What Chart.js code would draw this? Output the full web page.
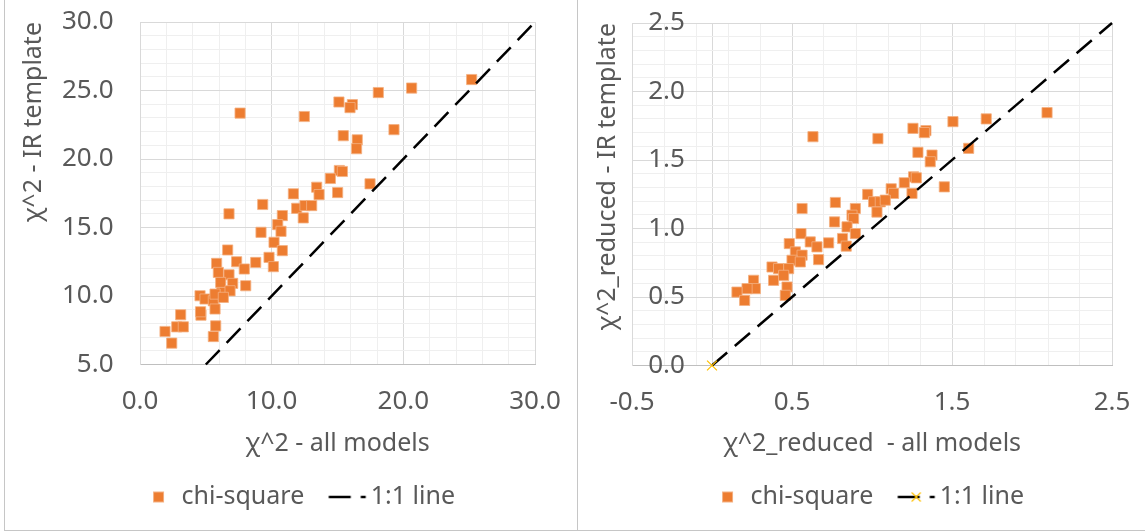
<!DOCTYPE html>
<html>
<head>
<meta charset="utf-8">
<script src="https://cdn.jsdelivr.net/npm/chart.js@4.4.1/dist/chart.umd.min.js"></script>
<style>
  body { margin: 0; background: #fff; overflow: hidden; }
  #wrap { position: relative; width: 1145px; height: 532px; overflow: hidden; }
  canvas { position: absolute; top: 0; }
  #leftChart { left: 4px; }
  #rightChart { left: 578px; }
  .rule { position: absolute; background: #c6c6c6; z-index: 2; }
</style>
</head>
<body>
<div id="wrap">
  <canvas id="leftChart" width="580" height="530"></canvas>
  <canvas id="rightChart" width="570" height="530"></canvas>
  <div class="rule" style="left:4px;top:0;width:1px;height:531px"></div>
  <div class="rule" style="left:577px;top:0;width:1px;height:531px"></div>
  <div class="rule" style="left:4px;top:530px;width:1141px;height:1px"></div>
</div>
<script>
// chi-square: all models (x) vs IR template (y)
const chiAllModels = [7.6, 12.48, 15.11, 16.13, 15.95, 18.1, 20.63, 25.19, 15.44, 16.5,
  16.45, 19.29, 15.14, 15.37, 14.46, 17.47, 11.65, 13.42, 13.6, 15.01,
  9.32, 6.76, 11.9, 12.53, 13.04, 12.4, 10.81, 10.46, 10.71, 9.19,
  10.18, 10.81, 9.8, 10.13, 6.66, 5.82, 7.34, 7.92, 8.79, 5.95,
  6.76, 6.13, 7.04, 8.03, 6.2, 6.84, 4.56, 4.94, 5.57, 5.7,
  6.33, 5.7, 4.63, 4.6, 3.09, 1.9, 2.79, 3.29, 2.41, 5.75, 5.57];
const chiIRTemplate = [23.35, 23.1, 24.16, 23.97, 23.75, 24.85, 25.18, 25.8, 21.7, 21.4,
  20.75, 22.14, 19.16, 19.09, 18.58, 18.19, 17.46, 17.94, 17.4, 17.55,
  16.68, 16.0, 16.4, 16.6, 16.6, 15.7, 15.87, 15.21, 14.72, 14.65,
  13.92, 13.31, 12.82, 12.14, 13.36, 12.38, 12.5, 11.97, 12.45, 11.72,
  11.55, 10.99, 10.92, 10.75, 10.26, 10.38, 10.02, 9.78, 9.65, 10.14,
  9.9, 9.05, 8.6, 8.85, 8.63, 7.41, 7.75, 7.75, 6.56, 7.82, 7.04];

// reduced chi-square: all models (x) vs IR template (y)
const redAllModels = [0.631, 1.037, 1.256, 1.337, 1.327, 1.506, 1.714, 2.094, 1.287, 1.375,
  1.364, 1.604, 1.452, 1.26, 1.277, 1.202, 1.25, 1.12, 1.135, 0.973,
  1.01, 1.052, 1.083, 1.031, 0.771, 0.563, 0.896, 0.875, 0.885, 0.766,
  0.844, 0.896, 0.816, 0.839, 0.729, 0.556, 0.483, 0.614, 0.656, 0.521,
  0.563, 0.5, 0.552, 0.479, 0.666, 0.375, 0.416, 0.385, 0.448, 0.469,
  0.458, 0.26, 0.271, 0.219, 0.156, 0.204];
const redIRTemplate = [1.67, 1.656, 1.731, 1.714, 1.70, 1.78, 1.80, 1.846, 1.556, 1.536,
  1.487, 1.585, 1.304, 1.377, 1.37, 1.334, 1.256, 1.29, 1.256, 1.249,
  1.195, 1.195, 1.207, 1.12, 1.19, 1.146, 1.146, 1.097, 1.073, 1.048,
  1.012, 0.963, 0.927, 0.871, 0.895, 0.963, 0.89, 0.902, 0.866, 0.829,
  0.805, 0.768, 0.756, 0.707, 0.773, 0.719, 0.707, 0.622, 0.658, 0.573,
  0.512, 0.622, 0.561, 0.561, 0.536, 0.475];

// 1:1 reference lines (end points, same value on both axes)
const lineLeft = [5, 30];
const lineRight = [0, 2.5];

// axis ranges and grid steps
const leftX = { min: 0, max: 30, step: 2, major: 10 };
const leftY = { min: 5, max: 30, step: 1, major: 5 };
const rightX = { min: -0.5, max: 2.5, step: 0.2, major: 1 };
const rightY = { min: 0, max: 2.5, step: 0.1, major: 0.5 };

const orange = '#ED7D31';
const orangeEdge = '#F4B183';
const gold = '#FFC000';
const textColor = '#595959';
const majorGrid = '#D9D9D9';
const minorGrid = '#EFEFEF';
const axisColor = '#BFBFBF';
const tickFont = { size: 26 };

Chart.defaults.font.family = "'Noto Sans', sans-serif";
Chart.defaults.font.size = 25;
Chart.defaults.color = textColor;

function onStep(v, base, step) {
  const k = (v - base) / step;
  return Math.abs(k - Math.round(k)) < 1e-6;
}

// fixed scale size; the label overhang padding is not needed, the layout padding covers it
function fixSize(w, h) {
  return s => {
    if (w !== null) s.width = w;
    if (h !== null) s.height = h;
    s.paddingTop = 0;
    s.paddingBottom = 0;
    s.paddingLeft = 0;
    s.paddingRight = 0;
  };
}

function legendSymbol(draw) {
  const c = document.createElement('canvas');
  c.width = 64;
  c.height = 20;
  draw(c.getContext('2d'));
  return c;
}

const squareSymbol = legendSymbol(g => {
  g.fillStyle = orange;
  g.fillRect(34.5, 5, 10, 10);
  g.strokeStyle = orangeEdge;
  g.lineWidth = 1;
  g.strokeRect(34.5, 5, 10, 10);
});

function dashSymbol(withCross) {
  return legendSymbol(g => {
    g.strokeStyle = '#000';
    g.lineWidth = 2.5;
    g.setLineDash([22, 10]);
    g.beginPath();
    g.moveTo(20.5, 10);
    g.lineTo(57.5, 10);
    g.stroke();
    if (withCross) {
      g.setLineDash([]);
      g.strokeStyle = gold;
      g.lineWidth = 1.2;
      g.beginPath();
      g.moveTo(34.5, 5.5); g.lineTo(43.5, 14.5);
      g.moveTo(43.5, 5.5); g.lineTo(34.5, 14.5);
      g.stroke();
    }
  });
}

function legendOptions(symbols) {
  return {
    position: 'bottom',
    labels: {
      usePointStyle: true,
      pointStyleWidth: 36,
      padding: 18,
      color: textColor,
      font: { size: 25 },
      sort: (a, b) => a.datasetIndex - b.datasetIndex,
      generateLabels(chart) {
        const items = Chart.defaults.plugins.legend.labels.generateLabels(chart);
        items.forEach(it => { it.pointStyle = symbols[it.datasetIndex]; });
        return items;
      }
    }
  };
}

function gridColor(base, major) {
  return ctx => (ctx.tick && (ctx.tick.value === 0 || onStep(ctx.tick.value, base, major))) ? majorGrid : minorGrid;
}

function scatterSet(xs, ys) {
  return {
    label: 'chi-square',
    data: xs.map((x, i) => ({ x: x, y: ys[i] })),
    xAxisID: 'x',
    yAxisID: 'y',
    pointStyle: 'rect',
    pointRadius: 7.2,
    backgroundColor: orange,
    borderColor: orangeEdge,
    borderWidth: 0.8,
    order: 1
  };
}

function lineSet(ends) {
  return {
    label: '1:1 line',
    data: ends.map(v => ({ x: v, y: v })),
    xAxisID: 'x',
    yAxisID: 'y',
    showLine: true,
    borderColor: '#000',
    borderWidth: 2.5,
    borderDash: [20, 10],
    pointRadius: 0,
    clip: false,
    order: 0
  };
}

// left chart
const leftLine = lineSet(lineLeft);
new Chart('leftChart', {
  type: 'scatter',
  data: { datasets: [scatterSet(chiAllModels, chiIRTemplate), leftLine] },
  options: {
    responsive: false,
    animation: false,
    events: [],
    layout: { padding: { top: 22, bottom: 10.5, left: 0, right: 0 } },
    plugins: { legend: legendOptions([squareSymbol, dashSymbol(false)]), tooltip: { enabled: false } },
    scales: {
      x: {
        type: 'linear', min: leftX.min, max: leftX.max,
        ticks: {
          stepSize: leftX.step, autoSkip: false, maxRotation: 0, padding: 21.4, font: tickFont,
          callback: v => onStep(v, leftX.min, leftX.major) ? v.toFixed(1) : ''
        },
        grid: { color: gridColor(leftX.min, leftX.major), drawTicks: false },
        border: { color: axisColor },
        title: { display: true, text: 'χ^2 - all models', padding: { top: 0, bottom: 7.5 } },
        afterFit: fixSize(null, 102)
      },
      y: {
        type: 'linear', min: leftY.min, max: leftY.max,
        ticks: {
          stepSize: leftY.step, autoSkip: false, padding: 26.5, font: tickFont,
          callback: v => onStep(v, leftY.min, leftY.major) ? v.toFixed(1) : ''
        },
        grid: { color: gridColor(leftY.min, leftY.major), drawTicks: false },
        border: { color: majorGrid },
        title: { display: true, text: 'χ^2 - IR template', align: 'end', padding: { top: 15, bottom: 0 } },
        afterFit: fixSize(136, null)
      },
      yPad: {
        type: 'linear', position: 'right',
        grid: { display: false }, ticks: { display: false }, border: { display: false },
        afterFit: fixSize(49, null)
      }
    }
  }
});

// right chart
const rightLine = lineSet(lineRight);
rightLine.pointStyle = 'crossRot';
rightLine.pointRadius = [7, 0];
rightLine.pointBorderColor = gold;
rightLine.pointBorderWidth = 1.2;

const rightXGrid = [0];
for (let v = rightX.min; v <= rightX.max + 1e-9; v += rightX.step) {
  rightXGrid.push(Math.round(v * 10) / 10);
}
rightXGrid.sort((a, b) => a - b);

new Chart('rightChart', {
  type: 'scatter',
  data: { datasets: [scatterSet(redAllModels, redIRTemplate), rightLine] },
  options: {
    responsive: false,
    animation: false,
    events: [],
    layout: { padding: { top: 23, bottom: 10.5, left: 0, right: 0 } },
    plugins: { legend: legendOptions([squareSymbol, dashSymbol(true)]), tooltip: { enabled: false } },
    scales: {
      x: {
        type: 'linear', min: rightX.min, max: rightX.max,
        afterBuildTicks: s => { s.ticks = rightXGrid.map(v => ({ value: v })); },
        ticks: {
          stepSize: rightX.step, autoSkip: false, maxRotation: 0, padding: 21.4, font: tickFont,
          callback: v => onStep(v, rightX.min, rightX.major) ? v.toFixed(1) : ''
        },
        grid: { color: gridColor(rightX.min, rightX.major), drawTicks: false },
        border: { color: axisColor },
        title: { display: true, text: 'χ^2_reduced  - all models', padding: { top: 0, bottom: 7.5 } },
        afterFit: fixSize(null, 101)
      },
      y: {
        type: 'linear', min: rightY.min, max: rightY.max,
        ticks: {
          stepSize: rightY.step, autoSkip: false, mirror: true, crossAlign: 'far', padding: 16.2, font: tickFont,
          callback: v => onStep(v, rightY.min, rightY.major) ? v.toFixed(1) : ''
        },
        grid: { color: gridColor(rightY.min, rightY.major), drawTicks: false },
        border: { color: majorGrid },
        title: { display: true, text: 'χ^2_reduced - IR template', align: 'end', padding: { top: 15, bottom: 0 } },
        afterFit: fixSize(54, null)
      },
      yPad: {
        type: 'linear', position: 'right',
        grid: { display: false }, ticks: { display: false }, border: { display: false },
        afterFit: fixSize(36, null)
      }
    }
  }
});
</script>
</body>
</html>
